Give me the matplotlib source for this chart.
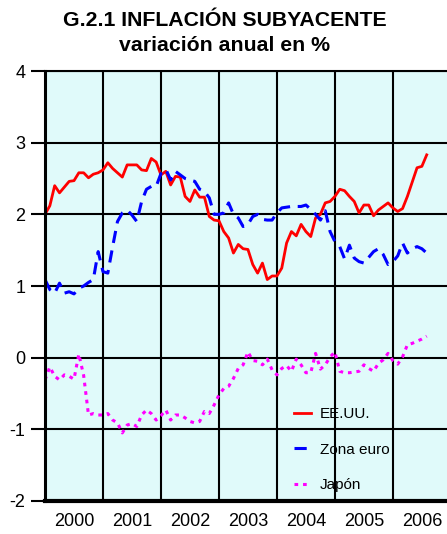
import numpy as np
import matplotlib
matplotlib.use('Agg')
from matplotlib import pyplot as plt

plt.rcParams['font.family'] = ['Liberation Sans', 'DejaVu Sans']
plt.rcParams['axes.unicode_minus'] = False

# monthly data, Jan 2000 onwards
eeuu = [2.00, 2.12, 2.40, 2.30, 2.38, 2.46, 2.47, 2.58, 2.58, 2.51,
        2.56, 2.58, 2.62, 2.72, 2.64, 2.58, 2.52, 2.69, 2.69, 2.69,
        2.62, 2.61, 2.78, 2.73, 2.55, 2.60, 2.41, 2.53, 2.52, 2.25,
        2.18, 2.34, 2.24, 2.24, 1.97, 1.92, 1.91, 1.76, 1.67, 1.46,
        1.58, 1.52, 1.51, 1.30, 1.18, 1.32, 1.09, 1.14, 1.14, 1.25,
        1.60, 1.76, 1.70, 1.86, 1.76, 1.69, 1.95, 2.00, 2.16, 2.18,
        2.25, 2.35, 2.33, 2.25, 2.18, 2.02, 2.13, 2.13, 1.98, 2.06,
        2.11, 2.16, 2.09, 2.04, 2.08, 2.25, 2.45, 2.65, 2.67, 2.83]
zona_euro = [1.09, 0.95, 0.90, 1.04, 0.90, 0.92, 0.89, 0.97, 1.00, 1.05,
             1.09, 1.48, 1.20, 1.18, 1.55, 1.90, 2.02, 2.06, 1.99, 1.90,
             2.18, 2.35, 2.39, 2.39, 2.57, 2.63, 2.48, 2.60, 2.55, 2.50,
             2.48, 2.46, 2.35, 2.32, 2.23, 2.00, 2.00, 2.02, 2.16, 2.00,
             1.95, 1.83, 1.86, 1.97, 2.00, 1.93, 1.92, 1.92, 2.02, 2.09,
             2.10, 2.11, 2.11, 2.11, 2.13, 2.07, 2.00, 1.92, 2.05, 1.76,
             1.62, 1.55, 1.38, 1.57, 1.39, 1.34, 1.32, 1.40, 1.48, 1.52,
             1.44, 1.30, 1.34, 1.42, 1.60, 1.46, 1.52, 1.55, 1.52, 1.46]
japon = [-0.31, -0.13, -0.26, -0.31, -0.24, -0.26, -0.30, 0.05, -0.25, -0.80,
         -0.78, -0.80, -0.80, -0.78, -0.87, -0.91, -1.05, -0.94, -0.92, -0.96,
         -0.80, -0.73, -0.78, -0.87, -0.81, -0.73, -0.87, -0.80, -0.80, -0.84,
         -0.89, -0.91, -0.89, -0.75, -0.78, -0.66, -0.52, -0.43, -0.40, -0.29,
         -0.15, -0.10, 0.08, -0.04, -0.05, -0.10, -0.02, -0.17, -0.24, -0.15,
         -0.11, -0.19, -0.02, -0.10, -0.21, -0.21, 0.06, -0.16, -0.10, 0.01,
         0.08, -0.19, -0.21, -0.21, -0.20, -0.19, -0.10, -0.15, -0.19, -0.08,
         -0.03, 0.06, -0.04, -0.09, 0.01, 0.18, 0.20, 0.23, 0.26, 0.30]
years = ['2000', '2001', '2002', '2003', '2004', '2005', '2006']

meses = np.arange(len(eeuu))

fig = plt.figure(figsize=(4.47, 5.34), dpi=100)
ax = fig.add_axes([0.1007, 0.0618, 0.8993, 0.8052])
ax.set_facecolor('#e0fafa')

ax.plot(meses, eeuu, color='#ff0000', lw=2.0, label='EE.UU.')
ax.plot(meses, zona_euro, color='#0000ff', lw=2.2, dashes=(4, 2.5), label='Zona euro')
ax.plot(meses, japon, color='#ff00ff', lw=2.2, dashes=(1.2, 1.6), label='Japón')

ax.set_xlim(0, 83.2)
ax.set_ylim(-2, 4)
ax.set_yticks(range(-2, 5))
ax.set_xticks(np.arange(0, 84, 12))
ax.set_xticks(np.arange(6, 84, 12), minor=True)
ax.set_xticklabels([])
ax.set_xticklabels(years, minor=True)
ax.tick_params(axis='x', which='both', length=0, labelsize=13, pad=9)
ax.tick_params(axis='y', length=10, width=1.5, direction='out', labelsize=13, pad=4)
ax.grid(True, which='major', color='black', lw=1.5)
ax.spines['right'].set_visible(False)
ax.spines['top'].set_linewidth(1.5)
ax.spines['left'].set_linewidth(2.2)
ax.spines['bottom'].set_linewidth(3)

ax.legend(loc='upper left', bbox_to_anchor=(0.585, 0.25), frameon=False,
          fontsize=11, handlelength=1.1, labelspacing=1.4, handletextpad=0.6)

fig.text(0.503, 0.962, 'G.2.1 INFLACIÓN SUBYACENTE', ha='center', va='center',
         fontsize=15.3, fontweight='bold')
fig.text(0.503, 0.915, 'variación anual en %', ha='center', va='center',
         fontsize=15.3, fontweight='bold')

fig.savefig('out.png', dpi=100)
